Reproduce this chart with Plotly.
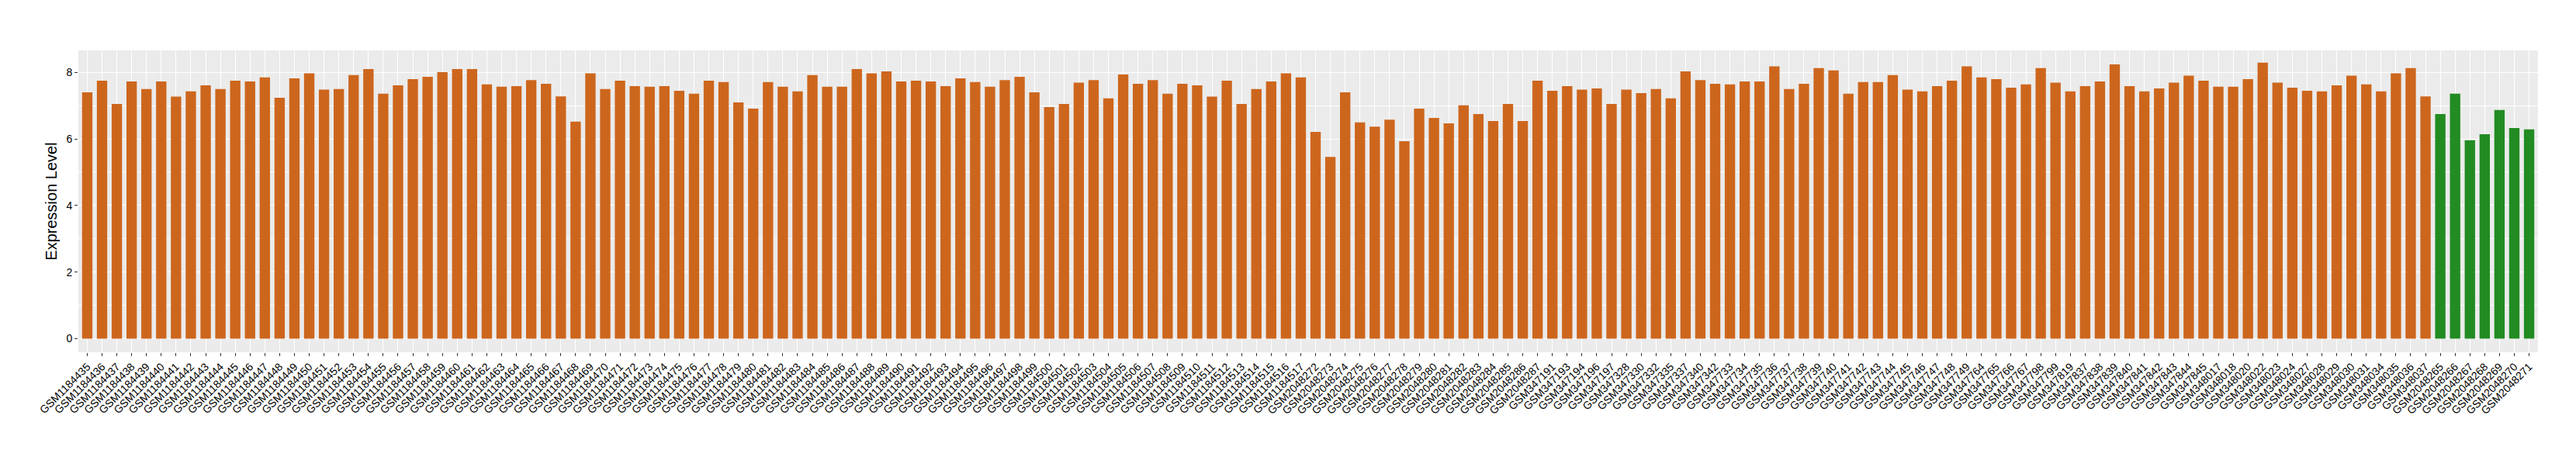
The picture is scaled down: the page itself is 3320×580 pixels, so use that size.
import plotly.graph_objects as go

samples = [
    "GSM1184435", "GSM1184436", "GSM1184437", "GSM1184438", "GSM1184439", "GSM1184440",
    "GSM1184441", "GSM1184442", "GSM1184443", "GSM1184444", "GSM1184445", "GSM1184446",
    "GSM1184447", "GSM1184448", "GSM1184449", "GSM1184450", "GSM1184451", "GSM1184452",
    "GSM1184453", "GSM1184454", "GSM1184455", "GSM1184456", "GSM1184457", "GSM1184458",
    "GSM1184459", "GSM1184460", "GSM1184461", "GSM1184462", "GSM1184463", "GSM1184464",
    "GSM1184465", "GSM1184466", "GSM1184467", "GSM1184468", "GSM1184469", "GSM1184470",
    "GSM1184471", "GSM1184472", "GSM1184473", "GSM1184474", "GSM1184475", "GSM1184476",
    "GSM1184477", "GSM1184478", "GSM1184479", "GSM1184480", "GSM1184481", "GSM1184482",
    "GSM1184483", "GSM1184484", "GSM1184485", "GSM1184486", "GSM1184487", "GSM1184488",
    "GSM1184489", "GSM1184490", "GSM1184491", "GSM1184492", "GSM1184493", "GSM1184494",
    "GSM1184495", "GSM1184496", "GSM1184497", "GSM1184498", "GSM1184499", "GSM1184500",
    "GSM1184501", "GSM1184502", "GSM1184503", "GSM1184504", "GSM1184505", "GSM1184506",
    "GSM1184507", "GSM1184508", "GSM1184509", "GSM1184510", "GSM1184511", "GSM1184512",
    "GSM1184513", "GSM1184514", "GSM1184515", "GSM1184516", "GSM1184517",
    "GSM2048272", "GSM2048273", "GSM2048274", "GSM2048275", "GSM2048276", "GSM2048277",
    "GSM2048278", "GSM2048279", "GSM2048280", "GSM2048281", "GSM2048282", "GSM2048283",
    "GSM2048284", "GSM2048285", "GSM2048286", "GSM2048287",
    "GSM347191", "GSM347193", "GSM347194", "GSM347196", "GSM347197",
    "GSM347328", "GSM347330", "GSM347332", "GSM347335", "GSM347337", "GSM347340", "GSM347342",
    "GSM347733", "GSM347734", "GSM347735", "GSM347736", "GSM347737", "GSM347738",
    "GSM347739", "GSM347740", "GSM347741", "GSM347742", "GSM347743", "GSM347744",
    "GSM347745", "GSM347746", "GSM347747", "GSM347748", "GSM347749",
    "GSM347764", "GSM347765", "GSM347766", "GSM347767", "GSM347798", "GSM347799",
    "GSM347819", "GSM347837", "GSM347838", "GSM347839", "GSM347840", "GSM347841",
    "GSM347842", "GSM347843", "GSM347844", "GSM347845",
    "GSM348017", "GSM348018", "GSM348020", "GSM348022", "GSM348023", "GSM348024",
    "GSM348027", "GSM348028", "GSM348029", "GSM348030", "GSM348031", "GSM348034",
    "GSM348035", "GSM348036", "GSM348037",
    "GSM2048265", "GSM2048266", "GSM2048267", "GSM2048268", "GSM2048269", "GSM2048270",
    "GSM2048271",
]

expression = [
    7.40, 7.75, 7.05, 7.73, 7.50, 7.73, 7.27, 7.43, 7.61, 7.50, 7.75, 7.73,
    7.85, 7.24, 7.82, 7.97, 7.48, 7.50, 7.92, 8.10, 7.36, 7.61, 7.80, 7.87,
    8.01, 8.10, 8.10, 7.64, 7.57, 7.59, 7.77, 7.66, 7.28, 6.52, 7.97, 7.50,
    7.75, 7.59, 7.57, 7.59, 7.45, 7.36, 7.75, 7.71, 7.10, 6.91, 7.71, 7.57,
    7.43, 7.92, 7.57, 7.57, 8.10, 7.97, 8.03, 7.73, 7.75, 7.73, 7.59, 7.82,
    7.71, 7.57, 7.77, 7.87, 7.40, 6.96, 7.05, 7.69, 7.77, 7.22, 7.94, 7.66,
    7.77, 7.36, 7.66, 7.61, 7.27, 7.75, 7.05, 7.50, 7.73, 7.97, 7.85,
    6.21, 5.46, 7.40, 6.50, 6.37, 6.58, 5.93, 6.91, 6.63, 6.47, 7.01, 6.75,
    6.54, 7.05, 6.54, 7.75,
    7.45, 7.59, 7.48, 7.52, 7.05,
    7.48, 7.38, 7.50, 7.22, 8.03, 7.77, 7.66,
    7.64, 7.73, 7.73, 8.18, 7.50, 7.66, 8.13, 8.06, 7.36, 7.71, 7.71, 7.92,
    7.48, 7.43, 7.59, 7.75, 8.18,
    7.85, 7.80, 7.54, 7.64, 8.13, 7.69, 7.43, 7.59, 7.73, 8.24, 7.59, 7.43,
    7.52, 7.69, 7.90, 7.75,
    7.57, 7.57, 7.80, 8.29, 7.69, 7.54, 7.45, 7.43, 7.61, 7.90, 7.64, 7.43,
    7.97, 8.13, 7.28,
    6.75, 7.36, 5.96, 6.14, 6.87, 6.33, 6.29,
]

groups = ["other"] * 159 + ["highlight"] * 7
group_colors = {"other": "#CD661D", "highlight": "#228B22"}

y_ticks = [0, 2, 4, 6, 8]
y_minor = [1, 3, 5, 7]

bar_colors = [group_colors[g] for g in groups]

fig = go.Figure(
    go.Bar(
        x=samples,
        y=expression,
        marker=dict(color=bar_colors, line=dict(width=0)),
        width=0.7,
        showlegend=False,
    )
)

font_family = "Liberation Sans, Arial, Helvetica, sans-serif"

fig.update_layout(
    width=3320,
    height=580,
    margin=dict(l=93, r=57, t=57, b=134, pad=0),
    paper_bgcolor="white",
    plot_bgcolor="#EBEBEB",
    font=dict(family=font_family, color="black"),
    bargap=0.3,
)

fig.update_xaxes(
    type="category",
    categoryorder="array",
    categoryarray=samples,
    range=[-0.6, len(samples) - 0.4],
    showgrid=True,
    gridcolor="white",
    gridwidth=1.4,
    ticks="outside",
    ticklen=4,
    tickwidth=1,
    tickcolor="#333333",
    tickangle=-45,
    tickfont=dict(size=14, color="black", family=font_family),
    showline=False,
    zeroline=False,
    automargin=False,
)

fig.update_yaxes(
    range=[-0.41, 8.66],
    tickmode="array",
    tickvals=y_ticks,
    ticktext=[str(v) for v in y_ticks],
    showgrid=True,
    gridcolor="white",
    gridwidth=1.4,
    minor=dict(tickvals=y_minor, showgrid=True, gridcolor="white", gridwidth=0.7, ticks=""),
    ticks="outside",
    ticklen=4,
    tickwidth=1,
    tickcolor="#333333",
    tickfont=dict(size=14, color="black", family=font_family),
    zeroline=False,
    showline=False,
    title=dict(text="Expression Level", font=dict(size=20, color="black", family=font_family), standoff=6),
    automargin=False,
)

fig.write_html("out.html")
